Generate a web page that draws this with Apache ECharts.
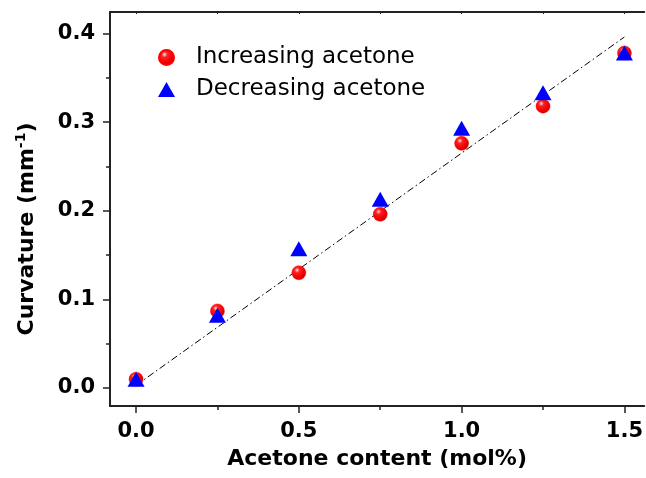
<!DOCTYPE html>
<html>
<head>
<meta charset="utf-8">
<script src="https://cdn.jsdelivr.net/npm/echarts@6/dist/echarts.min.js"></script>
<style>html,body{margin:0;padding:0;background:#fff}#c{width:646px;height:478px}</style>
</head>
<body>
<div id="c"></div>
<script>
// ---- data ----
var acetone = [0, 0.25, 0.5, 0.75, 1.0, 1.25, 1.5];
var increasing = [0.010, 0.087, 0.130, 0.196, 0.276, 0.318, 0.378];
var decreasing = [0.010, 0.082, 0.157, 0.213, 0.293, 0.333, 0.378];
var fitX = [0, 1.5];
var fitY = [0.003, 0.396];
var xTicks = [0, 0.5, 1.0, 1.5];
var xMinorTicks = [0.25, 0.75, 1.25];
var yTicks = [0, 0.1, 0.2, 0.3, 0.4];
var yMinorTicks = [0.05, 0.15, 0.25, 0.35];
var seriesNames = ['Increasing acetone', 'Decreasing acetone'];

function pairs(xs, ys) { return xs.map(function (x, i) { return [x, ys[i]]; }); }

var chart = echarts.init(document.getElementById('c'), null, { renderer: 'canvas' });
var axisColor = '#222';
var xMin = -0.08, xMax = 1.561, yMin = -0.0203, yMax = 0.4242;

chart.setOption({
  animation: false,
  backgroundColor: '#fff',
  grid: { left: 110, right: 0, top: 12, bottom: 72, containLabel: false },
  legend: {
    data: seriesNames,
    orient: 'vertical',
    left: 153,
    top: 41,
    itemGap: 9,
    itemWidth: 17,
    itemHeight: 15,
    textStyle: { fontFamily: 'DejaVu Sans', fontSize: 23, color: '#000', padding: [0, 0, 0, 16] }
  },
  xAxis: [
    {
      type: 'value', min: xMin, max: xMax, position: 'bottom',
      name: 'Acetone content (mol%)', nameLocation: 'middle', nameGap: 42,
      nameTextStyle: { fontFamily: 'DejaVu Sans', fontWeight: 'bold', fontSize: 22, color: '#000' },
      axisLine: { show: true, onZero: false, lineStyle: { color: axisColor, width: 2 } },
      axisTick: { show: true, inside: false, length: 7, customValues: xTicks, lineStyle: { color: axisColor, width: 1.5 } },
      axisLabel: { show: true, margin: 15, customValues: xTicks, fontFamily: 'DejaVu Sans', fontWeight: 'bold', fontSize: 21, color: '#000',
        formatter: function (v) { return v.toFixed(1); } },
      splitLine: { show: false }
    },
    {
      type: 'value', min: xMin, max: xMax, position: 'bottom',
      axisLine: { show: false, onZero: false },
      axisTick: { show: true, inside: false, length: 4, customValues: xMinorTicks, lineStyle: { color: axisColor, width: 1.5 } },
      axisLabel: { show: false },
      splitLine: { show: false }
    },
    {
      type: 'value', min: xMin, max: xMax, position: 'top',
      axisLine: { show: true, onZero: false, lineStyle: { color: axisColor, width: 2 } },
      axisTick: { show: true, inside: true, length: 2, customValues: xTicks.concat(xMinorTicks), lineStyle: { color: axisColor, width: 1 } },
      axisLabel: { show: false },
      splitLine: { show: false }
    }
  ],
  yAxis: [
    {
      type: 'value', min: yMin, max: yMax, position: 'left',
      name: '{b|Curvature (mm}{sup|-1}{b|)}', nameLocation: 'middle', nameGap: 70,
      nameTextStyle: {
        padding: [0, 40, 0, 0],
        rich: {
          b: { fontFamily: 'DejaVu Sans', fontWeight: 'bold', fontSize: 22, color: '#000', lineHeight: 26 },
          sup: { fontFamily: 'DejaVu Sans', fontWeight: 'bold', fontSize: 14, color: '#000', verticalAlign: 'top', lineHeight: 14, padding: [0, 0, 0, 0] }
        }
      },
      axisLine: { show: true, onZero: false, lineStyle: { color: axisColor, width: 2 } },
      axisTick: { show: true, inside: false, length: 7, customValues: yTicks, lineStyle: { color: axisColor, width: 1.5 } },
      axisLabel: { show: true, margin: 15, customValues: yTicks, fontFamily: 'DejaVu Sans', fontWeight: 'bold', fontSize: 21, color: '#000',
        formatter: function (v) { return v.toFixed(1); } },
      splitLine: { show: false }
    },
    {
      type: 'value', min: yMin, max: yMax, position: 'left',
      axisLine: { show: false, onZero: false },
      axisTick: { show: true, inside: false, length: 4, customValues: yMinorTicks, lineStyle: { color: axisColor, width: 1.5 } },
      axisLabel: { show: false },
      splitLine: { show: false }
    }
  ],
  series: [
    {
      name: 'fit', type: 'line', xAxisIndex: 0, yAxisIndex: 0,
      data: pairs(fitX, fitY), symbol: 'none', silent: true, z: 1,
      lineStyle: { color: '#000', width: 1, type: [7, 3, 1.5, 3] }
    },
    {
      name: seriesNames[0], type: 'scatter', xAxisIndex: 0, yAxisIndex: 0,
      data: pairs(acetone, increasing), symbol: 'circle', symbolSize: 14, z: 3,
      itemStyle: {
        opacity: 1,
        color: { type: 'radial', x: 0.38, y: 0.32, r: 0.7,
          colorStops: [{ offset: 0, color: '#ffe6e6' }, { offset: 0.25, color: '#ff2020' }, { offset: 0.7, color: '#f00000' }, { offset: 1, color: '#c80000' }] },
        borderColor: '#ff0000', borderWidth: 0.5
      }
    },
    {
      name: seriesNames[1], type: 'scatter', xAxisIndex: 0, yAxisIndex: 0,
      data: pairs(acetone, decreasing), symbol: 'triangle', symbolSize: [17, 15], z: 4,
      itemStyle: { color: '#0000ff', opacity: 1 }
    }
  ]
});
</script>
</body>
</html>
